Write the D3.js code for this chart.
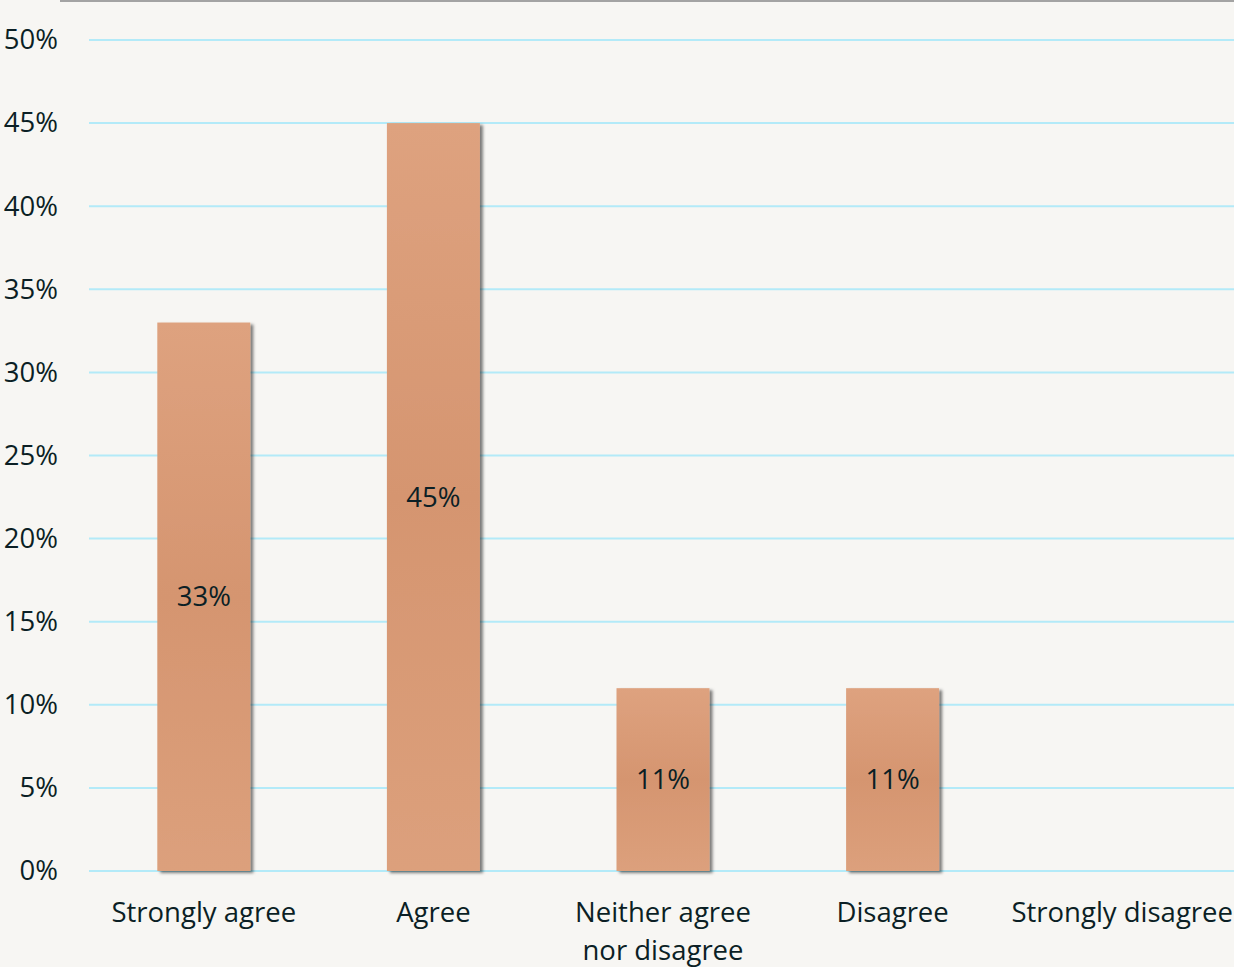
<!DOCTYPE html>
<html>
<head>
<meta charset="utf-8">
<script src="https://cdn.jsdelivr.net/npm/d3@7"></script>
<style>
  html, body { margin: 0; padding: 0; background: #f7f6f3; }
  svg { display: block; }
  text { font-family: "Open Sans", "Noto Sans", sans-serif; fill: #0b1f25; }
</style>
</head>
<body>
<svg id="chart" width="1234" height="967"></svg>
<script>
// Survey responses: share of respondents per answer
const categories = ["Strongly agree", "Agree", "Neither agree\nnor disagree", "Disagree", "Strongly disagree"];
const shares = [0.33, 0.45, 0.11, 0.11, 0];
const yTicks = [0, 0.05, 0.10, 0.15, 0.20, 0.25, 0.30, 0.35, 0.40, 0.45, 0.50];

const W = 1234, H = 967;
const plot = { left: 89, right: 1237, top: 40, bottom: 871 };
const FS = 27.5;

const svg = d3.select("#chart");

const defs = svg.append("defs");
const grad = defs.append("linearGradient")
  .attr("id", "barFill").attr("x1", 0).attr("y1", 0).attr("x2", 0).attr("y2", 1);
grad.append("stop").attr("offset", "0%").attr("stop-color", "#dea27f");
grad.append("stop").attr("offset", "50%").attr("stop-color", "#d59570");
grad.append("stop").attr("offset", "100%").attr("stop-color", "#dca07c");

const shadow = defs.append("filter").attr("id", "barShadow")
  .attr("x", "-10%").attr("y", "-10%").attr("width", "130%").attr("height", "130%");
shadow.append("feDropShadow")
  .attr("dx", 3).attr("dy", 2).attr("stdDeviation", 1.5)
  .attr("flood-color", "#000").attr("flood-opacity", 0.5);

const x = d3.scaleBand()
  .domain(categories)
  .range([plot.left, plot.right])
  .paddingInner(0.595)
  .paddingOuter(0.2975);

const y = d3.scaleLinear()
  .domain([0, 0.5])
  .range([plot.bottom, plot.top]);

// top frame line
svg.append("line")
  .attr("x1", 60).attr("x2", W)
  .attr("y1", 1).attr("y2", 1)
  .attr("stroke", "#a3a3a3").attr("stroke-width", 2);

// horizontal gridlines
svg.append("g").selectAll("line")
  .data(yTicks)
  .join("line")
  .attr("x1", plot.left).attr("x2", W)
  .attr("y1", d => y(d)).attr("y2", d => y(d))
  .attr("stroke", "#b3eaf8").attr("stroke-width", 2);

// y axis labels
const yAxis = d3.axisLeft(y)
  .tickValues(yTicks)
  .tickFormat(d3.format(".0%"))
  .tickSize(0)
  .tickPadding(0);
const yg = svg.append("g")
  .attr("transform", "translate(58,0)")
  .call(yAxis);
yg.select(".domain").remove();
yg.selectAll("text")
  .attr("font-size", FS)
  .attr("font-family", "Open Sans, sans-serif")
  .attr("fill", "#0b1f25");

// bars
svg.append("g").selectAll("rect")
  .data(shares.map((v, i) => ({ cat: categories[i], v })).filter(d => d.v > 0))
  .join("rect")
  .attr("x", d => x(d.cat))
  .attr("width", x.bandwidth())
  .attr("y", d => y(d.v))
  .attr("height", d => y(0) - y(d.v))
  .attr("fill", "url(#barFill)")
  .attr("filter", "url(#barShadow)");

// value labels centred in the bars
svg.append("g").selectAll("text")
  .data(shares.map((v, i) => ({ cat: categories[i], v })).filter(d => d.v > 0))
  .join("text")
  .attr("x", d => x(d.cat) + x.bandwidth() / 2)
  .attr("y", d => (y(d.v) + y(0)) / 2)
  .attr("dy", "0.35em")
  .attr("text-anchor", "middle")
  .attr("font-size", FS)
  .text(d => d3.format(".0%")(d.v));

// category labels
const xg = svg.append("g");
categories.forEach(c => {
  const t = xg.append("text")
    .attr("text-anchor", "middle")
    .attr("font-size", FS)
    .attr("x", x(c) + x.bandwidth() / 2)
    .attr("y", 922);
  c.split("\n").forEach((line, i) => {
    t.append("tspan")
      .attr("x", x(c) + x.bandwidth() / 2)
      .attr("dy", i === 0 ? 0 : 38)
      .text(line);
  });
});
</script>
</body>
</html>
